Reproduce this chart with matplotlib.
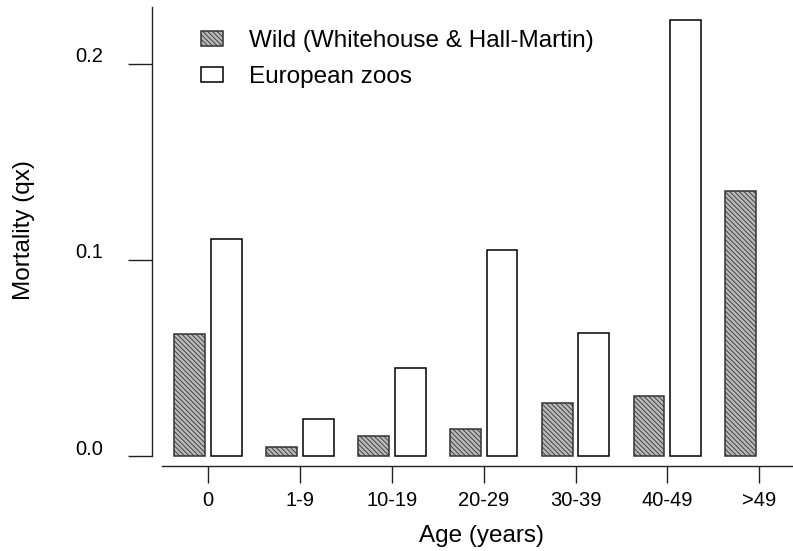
import numpy as np
import matplotlib
matplotlib.use("Agg")
import matplotlib.pyplot as plt
from matplotlib.transforms import ScaledTranslation

# values
age_groups = ["0", "1-9", "10-19", "20-29", "30-39", "40-49", ">49"]
wild_qx = [0.0620, 0.0047, 0.0102, 0.0139, 0.0270, 0.0306, 0.1351]
zoo_qx = [0.1106, 0.0189, 0.0449, 0.105, 0.0627, 0.2222, np.nan]
y_ticks = [0.0, 0.1, 0.2]
y_ticklabels = ["0.0", "0.1", "0.2"]

wild_label = "Wild (Whitehouse & Hall-Martin)"
zoo_label = "European zoos"

plt.rcParams["font.family"] = ["Liberation Sans", "DejaVu Sans"]
plt.rcParams["hatch.linewidth"] = 0.6
plt.rcParams["hatch.color"] = "#444444"


def main():
    fig = plt.figure(figsize=(7.93, 5.51), dpi=100)
    W, H = 793, 551
    ax = fig.add_axes([152 / W, (H - 465.7) / H, (W - 152) / W, (465.7 - 7) / H])

    x = np.arange(len(age_groups))
    width = 0.337
    ax.bar(x - 0.2, wild_qx, width, facecolor="#b8b8b8", edgecolor="#333333",
           linewidth=1.1, hatch="\\" * 7, label=wild_label)
    zoo_x = [xi + 0.2 for xi, v in zip(x, zoo_qx) if not np.isnan(v)]
    zoo_v = [v for v in zoo_qx if not np.isnan(v)]
    ax.bar(zoo_x, zoo_v, width, facecolor="white", edgecolor="black",
           linewidth=1.1, label=zoo_label)

    ax.set_xlim(-0.609, 6.367)
    ax.set_ylim(-0.00494, 0.2288)

    for s in ["top", "right"]:
        ax.spines[s].set_visible(False)
    ax.spines["left"].set_bounds(0, 0.2288)
    ax.spines["bottom"].set_bounds(-0.5, 6.367)
    for s in ["left", "bottom"]:
        ax.spines[s].set_linewidth(1.0)
        ax.spines[s].set_color("#222222")

    ax.set_xticks(x)
    ax.set_xticklabels(age_groups, fontsize=14.5)
    ax.set_yticks(y_ticks)
    ax.set_yticklabels(y_ticklabels, fontsize=14.5)
    ax.tick_params(axis="x", direction="out", length=12, width=1.0,
                   pad=6, color="#222222")
    ax.tick_params(axis="y", direction="out", length=17.3, width=1.0,
                   pad=18, color="#222222")
    # y labels sit a little above their ticks
    off = ScaledTranslation(0, 9 / 100, fig.dpi_scale_trans)
    for lab in ax.get_yticklabels():
        lab.set_transform(lab.get_transform() + off)

    ax.set_xlabel("Age (years)", fontsize=17.5, va="baseline")
    ax.xaxis.set_label_coords(0.514, -0.1657)
    ax.set_ylabel("Mortality (qx)", fontsize=17.5, va="baseline")
    ax.yaxis.set_label_coords(-0.19, 0.514)

    ax.legend(loc="upper left", bbox_to_anchor=(200.7 / W, 1 - 30 / H),
              bbox_transform=fig.transFigure, frameon=False, fontsize=17.5,
              borderpad=0, borderaxespad=0, handlelength=0.9,
              handleheight=0.62, handletextpad=1.1, labelspacing=0.58)

    fig.savefig("out.png", dpi=100)


if __name__ == "__main__":
    main()
